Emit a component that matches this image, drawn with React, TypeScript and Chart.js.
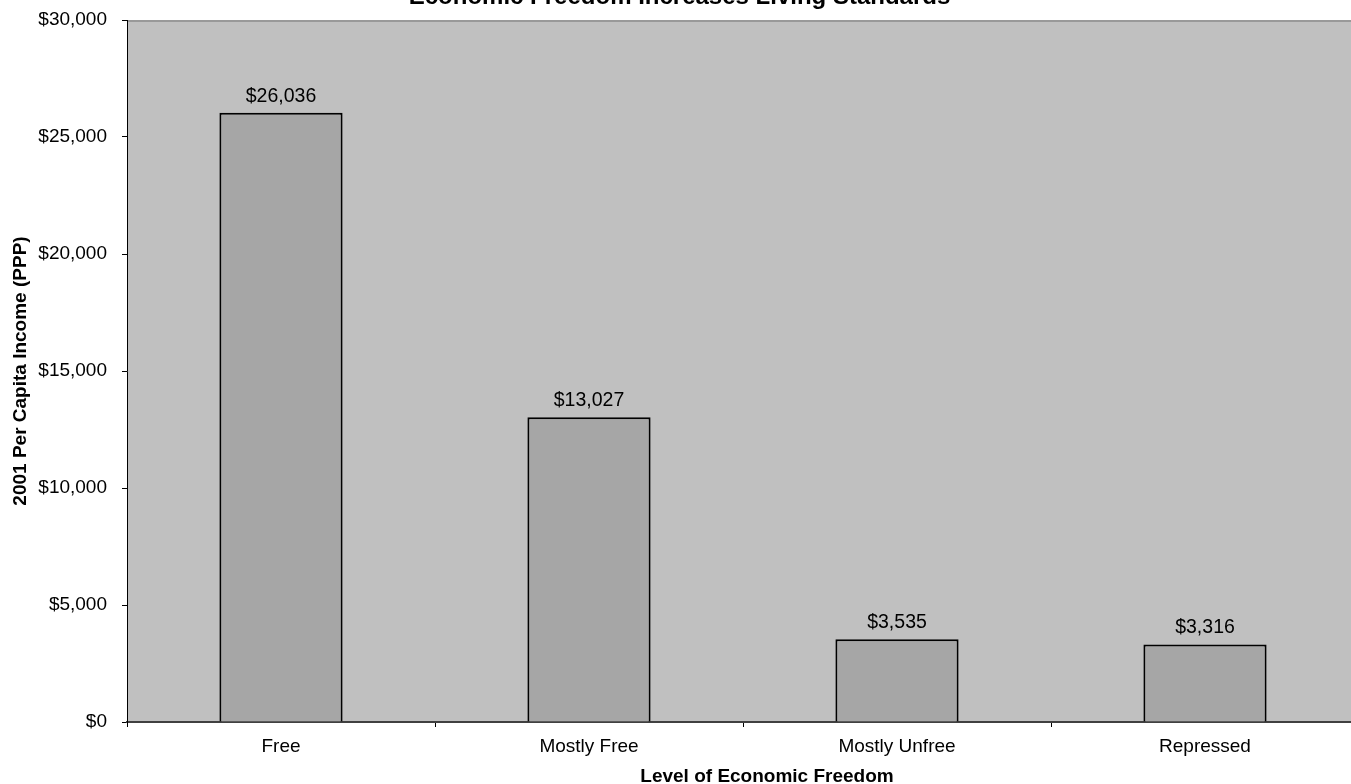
import React, { useEffect, useRef } from 'react';
import { Chart, registerables } from 'chart.js';

Chart.register(...registerables);

const categories: string[] = ['Free', 'Mostly Free', 'Mostly Unfree', 'Repressed'];
const incomes: number[] = [26036, 13027, 3535, 3316];
const yMin = 0;
const yMax = 30000;
const yStep = 5000;
const chartTitle = 'Economic Freedom Increases Living Standards';
const xTitle = 'Level of Economic Freedom';
const yTitle = '2001 Per Capita Income (PPP)';

const FONT = 'Arial, "Liberation Sans", Helvetica, sans-serif';
const money = (v: number) => '$' + Math.round(v).toLocaleString('en-US');

const decorPlugin = {
  id: 'decor',
  beforeDraw(chart: any) {
    const { ctx, chartArea } = chart;
    ctx.save();
    ctx.fillStyle = '#C0C0C0';
    ctx.fillRect(chartArea.left, chartArea.top, chartArea.right - chartArea.left, chartArea.bottom - chartArea.top);
    ctx.strokeStyle = '#999999';
    ctx.lineWidth = 2;
    ctx.beginPath();
    ctx.moveTo(chartArea.left, chartArea.top + 1);
    ctx.lineTo(chartArea.right, chartArea.top + 1);
    ctx.stroke();
    ctx.restore();
  },
  afterDatasetsDraw(chart: any) {
    const { ctx } = chart;
    const meta = chart.getDatasetMeta(0);
    ctx.save();
    ctx.fillStyle = '#000';
    ctx.font = `19.5px ${FONT}`;
    ctx.textAlign = 'center';
    ctx.textBaseline = 'alphabetic';
    meta.data.forEach((el: any, i: number) => {
      ctx.fillText(money(incomes[i]), el.x, el.y - 11);
    });
    ctx.restore();
  },
  afterDraw(chart: any) {
    const { ctx, chartArea, width } = chart;
    ctx.save();
    ctx.fillStyle = '#000';
    ctx.textAlign = 'center';
    // chart title (partly above the top edge)
    ctx.font = `bold 24px ${FONT}`;
    ctx.textBaseline = 'alphabetic';
    ctx.fillText(chartTitle, width / 2, 4);
    // x axis title
    ctx.font = `bold 19px ${FONT}`;
    ctx.fillText(xTitle, (chartArea.left + chartArea.right) / 2 + 24, 782);
    // y axis title
    ctx.translate(21, (chartArea.top + chartArea.bottom) / 2);
    ctx.rotate(-Math.PI / 2);
    ctx.textBaseline = 'middle';
    ctx.fillText(yTitle, 0, 0);
    ctx.restore();
  },
};

export default function App() {
  const ref = useRef<HTMLCanvasElement | null>(null);
  useEffect(() => {
    document.body.style.margin = '0';
    document.body.style.overflow = 'hidden';
    if (!ref.current) return;
    const chart = new Chart(ref.current, {
      type: 'bar',
      data: {
        labels: categories,
        datasets: [
          {
            data: incomes,
            backgroundColor: '#A6A6A6',
            borderColor: '#000000',
            borderWidth: 2,
            categoryPercentage: 0.4,
            barPercentage: 1,
          },
        ],
      },
      options: {
        responsive: false,
        animation: false,
        layout: { padding: { top: 20, right: 0, bottom: 0, left: 0 } },
        plugins: {
          legend: { display: false },
          title: { display: false },
          tooltip: { enabled: false },
        },
        scales: {
          x: {
            type: 'category',
            offset: true,
            grid: {
              offset: true,
              drawOnChartArea: false,
              drawTicks: true,
              tickLength: 5,
              color: '#000',
            },
            border: { color: '#404040', width: 2 },
            ticks: {
              color: '#000',
              font: { size: 19, family: FONT },
              padding: 8,
              maxRotation: 0,
              autoSkip: false,
            },
            afterFit: (scale: any) => {
              scale.height = 62;
              scale.paddingLeft = 0;
              scale.paddingRight = 0;
            },
          },
          y: {
            min: yMin,
            max: yMax,
            grid: {
              drawOnChartArea: false,
              drawTicks: true,
              tickLength: 5,
              color: '#000',
            },
            border: { color: '#000', width: 1 },
            ticks: {
              stepSize: yStep,
              color: '#000',
              font: { size: 19, family: FONT },
              padding: 15,
              callback: (v: any) => money(Number(v)),
            },
            afterFit: (scale: any) => {
              scale.width = 127;
              scale.paddingTop = 0;
              scale.paddingBottom = 0;
            },
          },
        },
      },
      plugins: [decorPlugin],
    });
    return () => chart.destroy();
  }, []);

  return (
    <div style={{ position: 'fixed', left: 0, top: 0, width: 1351, height: 784, overflow: 'hidden', background: '#fff' }}>
      <canvas ref={ref} width={1359} height={784} style={{ width: 1359, height: 784, display: 'block' }} />
    </div>
  );
}
